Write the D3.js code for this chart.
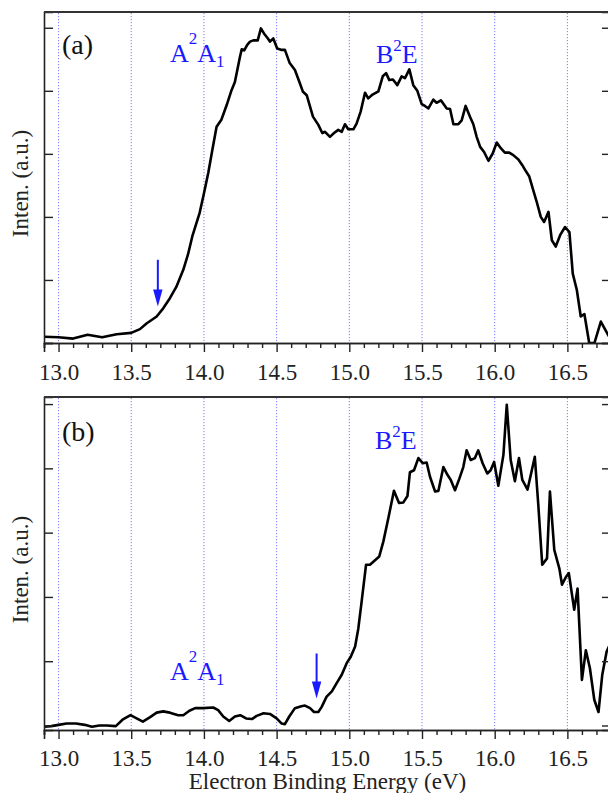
<!DOCTYPE html>
<html>
<head>
<meta charset="utf-8">
<script src="https://cdn.jsdelivr.net/npm/d3@7"></script>
<style>
  html, body { margin: 0; padding: 0; background: #fff; }
  svg { display: block; }
  text { font-family: "Liberation Serif", "Times New Roman", serif; }
</style>
</head>
<body>
<svg id="chart" width="608" height="793"></svg>
<script>
// ---------------- DATA ----------------
const topEnergy = [12.90,13.00,13.10,13.20,13.30,13.40,13.50,13.56,13.605,13.675,13.72,13.766,13.81,13.858,13.89,13.92,13.97,14.00,14.03,14.06,14.087,14.12,14.156,14.19,14.213,14.248,14.26,14.277,14.298,14.317,14.34,14.37,14.392,14.413,14.44,14.454,14.477,14.504,14.53,14.557,14.59,14.626,14.66,14.68,14.707,14.73,14.75,14.787,14.814,14.833,14.867,14.895,14.924,14.948,14.97,14.993,15.028,15.05,15.078,15.108,15.13,15.16,15.20,15.23,15.253,15.275,15.30,15.33,15.36,15.383,15.413,15.44,15.468,15.498,15.52,15.544,15.578,15.60,15.63,15.67,15.693,15.716,15.75,15.773,15.80,15.83,15.853,15.876,15.90,15.927,15.957,15.987,16.014,16.042,16.07,16.10,16.128,16.163,16.19,16.208,16.238,16.262,16.289,16.317,16.34,16.37,16.393,16.42,16.45,16.484,16.514,16.537,16.565,16.592,16.617,16.65,16.686,16.73,16.78,16.80];
const topIntensity = [0.10,0.09,0.07,0.13,0.09,0.14,0.16,0.22,0.31,0.42,0.55,0.71,0.89,1.16,1.40,1.69,2.06,2.37,2.70,3.09,3.43,3.54,3.77,4.01,4.14,4.54,4.66,4.64,4.73,4.78,4.80,4.80,4.99,4.91,4.83,4.78,4.83,4.67,4.65,4.65,4.44,4.33,4.12,3.99,3.93,3.75,3.59,3.46,3.33,3.35,3.27,3.33,3.38,3.35,3.47,3.39,3.39,3.48,3.67,3.97,3.88,3.94,3.99,4.23,4.28,4.17,4.18,4.09,4.23,4.20,4.34,4.09,4.00,3.79,3.76,3.72,3.86,3.81,3.85,3.72,3.71,3.47,3.47,3.53,3.76,3.59,3.47,3.27,3.11,3.03,2.89,3.01,3.18,3.09,3.02,3.02,2.98,2.91,2.82,2.75,2.64,2.45,2.24,2.00,1.92,2.08,1.63,1.53,1.71,1.84,1.76,1.10,0.84,0.42,0.46,0.00,0.00,0.34,0.13,0.05];

const bottomEnergy = [12.90,12.95,13.00,13.055,13.12,13.18,13.23,13.28,13.33,13.394,13.44,13.495,13.537,13.58,13.63,13.675,13.72,13.766,13.823,13.858,13.90,13.94,13.995,14.064,14.098,14.133,14.174,14.213,14.25,14.29,14.33,14.363,14.41,14.454,14.50,14.535,14.557,14.587,14.626,14.67,14.695,14.73,14.757,14.787,14.81,14.844,14.88,14.913,14.948,14.982,15.01,15.04,15.062,15.085,15.115,15.142,15.177,15.206,15.234,15.268,15.307,15.342,15.372,15.40,15.417,15.445,15.475,15.505,15.532,15.555,15.59,15.613,15.647,15.675,15.698,15.727,15.757,15.784,15.807,15.835,15.864,15.887,15.917,15.949,15.972,15.996,16.025,16.06,16.083,16.11,16.139,16.167,16.19,16.226,16.276,16.30,16.327,16.36,16.38,16.41,16.445,16.463,16.49,16.51,16.547,16.57,16.60,16.627,16.655,16.685,16.714,16.74,16.77,16.80];
const bottomIntensity = [-0.02,-0.01,0.01,0.03,0.03,0.01,-0.02,0.00,0.00,-0.01,0.09,0.16,0.11,0.06,0.13,0.20,0.22,0.20,0.16,0.16,0.23,0.27,0.27,0.28,0.24,0.14,0.07,0.14,0.16,0.11,0.10,0.15,0.19,0.18,0.11,0.03,0.02,0.14,0.27,0.30,0.31,0.27,0.21,0.21,0.29,0.45,0.53,0.66,0.79,0.97,1.07,1.23,1.51,1.93,2.50,2.50,2.57,2.63,2.86,3.22,3.65,3.46,3.47,3.57,3.94,3.97,4.16,4.08,4.09,3.87,3.64,3.65,4.02,3.90,3.82,3.66,3.84,4.02,4.28,4.13,4.16,4.28,4.08,3.92,3.97,4.10,3.73,4.21,4.99,4.13,3.80,4.16,3.82,3.67,4.18,3.43,2.50,2.60,3.64,2.73,2.44,2.19,2.31,2.37,1.80,2.13,0.71,1.17,0.89,0.40,0.21,0.79,1.15,1.30];

const xMajorTicks = [13.0, 13.5, 14.0, 14.5, 15.0, 15.5, 16.0, 16.5];
const xMinorTicks = [12.9,13.1,13.2,13.3,13.4,13.6,13.7,13.8,13.9,14.1,14.2,14.3,14.4,14.6,14.7,14.8,14.9,15.1,15.2,15.3,15.4,15.6,15.7,15.8,15.9,16.1,16.2,16.3,16.4,16.6,16.7,16.8];
const yTicks = [0, 1, 2, 3, 4, 5];
const xDomain = [12.9, 16.8];
const topYDomain = [0, 5.25];
const bottomYDomain = [-0.07, 5.11];
const panelLabels = ["(a)", "(b)"];
const arrowEnergy = [13.683, 14.775];
const xTitle = "Electron Binding Energy (eV)";
const yTitle = "Inten. (a.u.)";

// ---------------- DRAW ----------------
const svg = d3.select("#chart");
const left = 44, right = 611;
const x = d3.scaleLinear().domain(xDomain).range([left, right]);

const blue = "#1a1aff";

function panel(cfg) {
  const { top, bottom, yDomain, energy, inten, id, pad } = cfg;
  const y = d3.scaleLinear().domain(yDomain).range([bottom, top]);
  const g = svg.append("g");

  g.append("clipPath").attr("id", "clip" + id)
    .append("rect").attr("x", left).attr("y", top).attr("width", right - left).attr("height", bottom - top);

  // grid
  g.append("g").selectAll("line").data(xMajorTicks).join("line")
    .attr("x1", d => x(d)).attr("x2", d => x(d))
    .attr("y1", top + 1).attr("y2", bottom)
    .attr("stroke", "#7a7aff").attr("stroke-width", 1)
    .attr("stroke-dasharray", "1.2,1.8");

  // curve
  const pts = energy.map((e, i) => [e, inten[i]]);
  g.append("path").datum(pts)
    .attr("clip-path", `url(#clip${id})`)
    .attr("fill", "none").attr("stroke", "#000").attr("stroke-width", 2.6)
    .attr("stroke-linejoin", "round")
    .attr("d", d3.line().x(d => x(d[0])).y(d => y(d[1])));

  // axes
  const xMajor = d3.axisBottom(x).tickValues(xMajorTicks).tickSize(9).tickPadding(pad).tickFormat(d3.format(".1f"));
  const xMin = d3.axisBottom(x).tickValues(xMinorTicks).tickSize(5).tickFormat("");
  const gx = g.append("g").attr("transform", `translate(0,${bottom})`).call(xMajor);
  g.append("g").attr("transform", `translate(0,${bottom})`).call(xMin);
  gx.selectAll("text").attr("font-size", 23).attr("fill", "#222")
    .attr("font-family", "Liberation Serif, serif").attr("dy", "0.72em");

  const yl = d3.axisLeft(y).tickValues(yTicks).tickSize(-9).tickFormat("");
  const yr = d3.axisRight(y).tickValues(yTicks).tickSize(-9).tickFormat("");
  g.append("g").attr("transform", `translate(${left},0)`).call(yl);
  g.append("g").attr("transform", `translate(${right},0)`).call(yr);

  g.selectAll(".domain").attr("stroke", "#222").attr("stroke-width", 1.6);
  g.selectAll(".tick line").attr("stroke", "#222").attr("stroke-width", 1.4);

  // top frame
  g.append("line").attr("x1", left).attr("x2", right).attr("y1", top).attr("y2", top)
    .attr("stroke", "#333").attr("stroke-width", 1.8);

  // y title
  g.append("text").attr("transform", `translate(28,${(top + bottom) / 2 + 6}) rotate(-90)`)
    .attr("text-anchor", "middle").attr("font-size", 23).attr("fill", "#222").text(yTitle);

  return y;
}

const yTop = panel({ top: 12, bottom: 343, yDomain: topYDomain, energy: topEnergy, inten: topIntensity, id: "a", pad: 11 });
const yBot = panel({ top: 397, bottom: 730, yDomain: bottomYDomain, energy: bottomEnergy, inten: bottomIntensity, id: "b", pad: 10 });

// panel labels
svg.append("text").attr("x", 62).attr("y", 53.5).attr("font-size", 28).attr("fill", "#111").text(panelLabels[0]);
svg.append("text").attr("x", 62).attr("y", 441).attr("font-size", 28).attr("fill", "#111").text(panelLabels[1]);

// state labels
function stateA(xp, yb) {
  const t = svg.append("text").attr("x", xp).attr("y", yb).attr("fill", blue).attr("font-size", 26);
  t.append("tspan").text("A");
  t.append("tspan").attr("font-size", 17).attr("dy", -18).text("2");
  t.append("tspan").attr("dy", 18).text("A");
  t.append("tspan").attr("font-size", 17).attr("dy", 5).text("1");
}
function stateB(xp, yb) {
  const t = svg.append("text").attr("x", xp).attr("y", yb).attr("fill", blue).attr("font-size", 26);
  t.append("tspan").text("B");
  t.append("tspan").attr("font-size", 17).attr("dy", -12).text("2");
  t.append("tspan").attr("dy", 12).text("E");
}
stateA(170, 62);
stateB(376, 63);
stateA(170, 680);
stateB(375, 448.5);

// arrows
function arrow(xp, y0, y1) {
  svg.append("line").attr("x1", xp).attr("x2", xp).attr("y1", y0).attr("y2", y1 - 14)
    .attr("stroke", blue).attr("stroke-width", 2);
  svg.append("path").attr("d", `M${xp - 4.7},${y1 - 17} L${xp + 4.7},${y1 - 17} L${xp},${y1} Z`).attr("fill", blue);
}
arrow(x(arrowEnergy[0]), yTop(1.32), yTop(0.58));
arrow(x(arrowEnergy[1]), yBot(1.12), yBot(0.42));

// x title
svg.append("text").attr("x", 327.5).attr("y", 789).attr("text-anchor", "middle")
  .attr("font-size", 23).attr("fill", "#222").text(xTitle);
</script>
</body>
</html>
